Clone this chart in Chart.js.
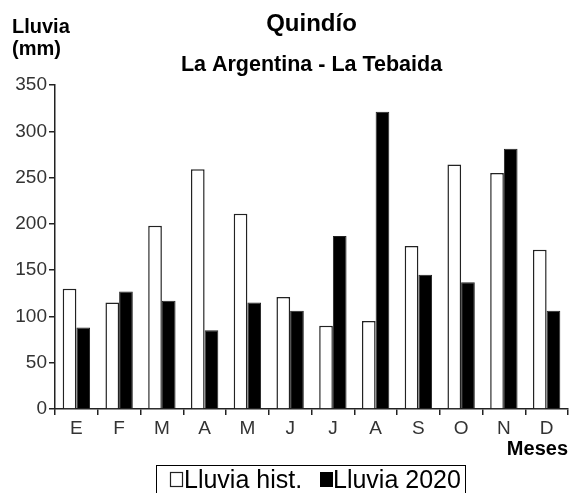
<!DOCTYPE html>
<html>
<head>
<meta charset="utf-8">
<script src="https://cdn.jsdelivr.net/npm/chart.js@4"></script>
<style>
  html, body { margin: 0; padding: 0; background: #fff; }
  #wrap { width: 570px; height: 493px; position: relative; }
</style>
</head>
<body>
<div id="wrap"><canvas id="c" width="570" height="493"></canvas></div>
<script>
const months = ["E", "F", "M", "A", "M", "J", "J", "A", "S", "O", "N", "D"];
const lluviaHist = [130, 115, 198, 259, 211, 121, 90, 95, 176, 264, 255, 172];
const lluvia2020 = [88, 127, 117, 85, 115, 106, 187, 321, 145, 137, 281, 106];
const yTicks = { min: 0, max: 350, step: 50 };
const titleText = "Quindío";
const subtitleText = "La Argentina - La Tebaida";
const yAxisTitle = ["Lluvia", "(mm)"];
const xAxisTitle = "Meses";
const legendLabels = ["Lluvia hist.", "Lluvia 2020"];

const FONT = "'Liberation Sans', Arial, sans-serif";

const textPlugin = {
  id: 'texts',
  afterDraw(chart) {
    const ctx = chart.ctx;
    const area = chart.chartArea;
    const cx = (area.left + area.right) / 2;
    ctx.save();
    ctx.fillStyle = '#000';
    ctx.textBaseline = 'alphabetic';
    // title
    ctx.textAlign = 'center';
    ctx.font = "bold 24px " + FONT;
    ctx.fillText(titleText, cx, 31);
    ctx.font = "bold 21.5px " + FONT;
    ctx.fillText(subtitleText, cx, 71);
    // y axis title
    ctx.textAlign = 'left';
    ctx.font = "bold 20px " + FONT;
    ctx.fillText(yAxisTitle[0], 12, 33);
    ctx.fillText(yAxisTitle[1], 12, 55);
    // x axis title
    ctx.textAlign = 'right';
    ctx.font = "bold 20px " + FONT;
    ctx.fillText(xAxisTitle, 568, 455);
    // legend
    ctx.strokeStyle = '#000';
    ctx.lineWidth = 1;
    ctx.strokeRect(156.5, 465.5, 309, 40);
    // legend swatches
    const ds = chart.data.datasets;
    ctx.lineWidth = 1.2;
    ctx.fillStyle = ds[0].backgroundColor;
    ctx.fillRect(170.5, 472.5, 12, 14);
    ctx.strokeStyle = '#222';
    ctx.strokeRect(170.5, 472.5, 12, 14);
    ctx.fillStyle = ds[1].backgroundColor;
    ctx.fillRect(320, 472, 13, 15);
    ctx.fillStyle = '#000';
    ctx.textAlign = 'left';
    ctx.font = "25px " + FONT;
    ctx.fillText(legendLabels[0], 184, 488);
    ctx.fillText(legendLabels[1], 333, 488);
    ctx.restore();
  }
};

new Chart(document.getElementById('c'), {
  type: 'bar',
  data: {
    labels: months,
    datasets: [
      {
        label: legendLabels[0],
        data: lluviaHist,
        backgroundColor: '#ffffff',
        borderColor: '#222',
        borderWidth: 1.5,
        categoryPercentage: 0.64,
        barPercentage: 1.0
      },
      {
        label: legendLabels[1],
        data: lluvia2020,
        backgroundColor: '#000000',
        borderColor: '#222',
        borderWidth: 1,
        categoryPercentage: 0.64,
        barPercentage: 1.0
      }
    ]
  },
  options: {
    responsive: false,
    animation: false,
    devicePixelRatio: 1,
    layout: { padding: { top: 85, left: 0, right: 2, bottom: 0 } },
    plugins: {
      legend: { display: false },
      title: { display: false },
      tooltip: { enabled: false }
    },
    scales: {
      x: {
        offset: true,
        afterFit(scale) { scale.height = 84; },
        grid: {
          offset: true,
          drawOnChartArea: false,
          drawTicks: true,
          tickLength: 6,
          color: '#222',
          lineWidth: 1.5
        },
        border: { display: true, color: '#222', width: 1.5 },
        ticks: {
          font: { family: FONT, size: 19 },
          color: '#333',
          padding: 2,
          maxRotation: 0,
          autoSkip: false
        }
      },
      y: {
        min: yTicks.min,
        max: yTicks.max,
        afterFit(scale) { scale.width = 55; },
        grid: {
          drawOnChartArea: false,
          drawTicks: true,
          tickLength: 6,
          color: '#222',
          lineWidth: 1.5
        },
        border: { display: true, color: '#222', width: 1.5 },
        ticks: {
          stepSize: yTicks.step,
          font: { family: FONT, size: 19 },
          color: '#333',
          padding: 2
        }
      }
    }
  },
  plugins: [textPlugin]
});
</script>
</body>
</html>
